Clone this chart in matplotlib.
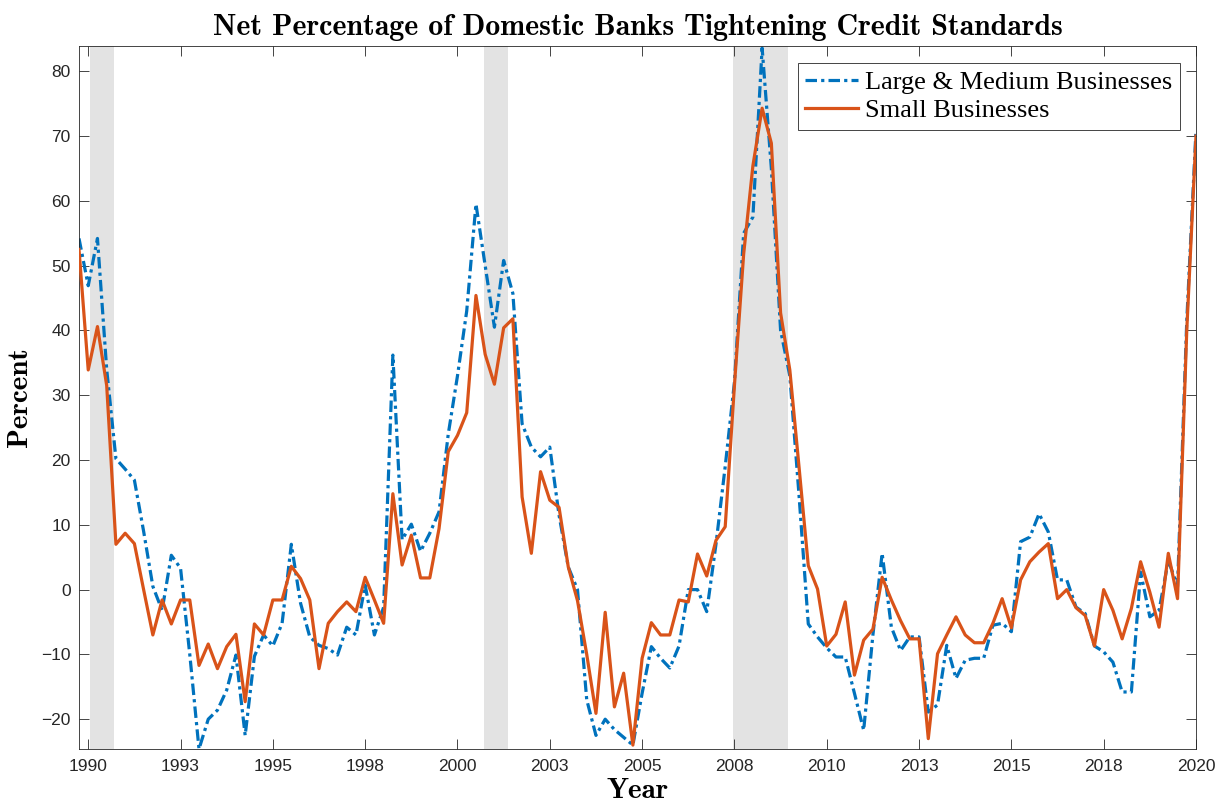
import numpy as np
import matplotlib.pyplot as plt

# quarterly survey, 1990 Q2 .. 2020 Q3 (decimal years)
first_quarter = 1990.25
large_medium = [
    54.2, 46.9, 54.2, 34.0, 20.2, 18.6, 16.9, 9.0, 0.5, -3.2,
    5.3, 3.3, -10.0, -24.6, -20.0, -18.6, -15.5, -10.1, -22.5, -10.3,
    -7.0, -8.7, -5.2, 7.0, -2.1, -7.3, -8.6, -9.1, -10.1, -5.8,
    -7.0, 0.7, -7.0, -2.7, 36.2, 7.7, 10.1, 5.9, 8.7, 12.0,
    24.0, 33.0, 43.0, 59.5, 50.0, 40.5, 50.8, 45.7, 25.6, 22.0,
    20.5, 22.0, 11.5, 3.5, 0.0, -17.0, -22.5, -20.0, -21.6, -22.8,
    -24.0, -16.0, -8.8, -10.6, -12.1, -8.7, 0.0, 0.0, -3.4, 7.0,
    19.0, 32.0, 55.0, 57.5, 83.6, 65.0, 40.0, 33.0, 14.5, -5.3,
    -7.3, -9.0, -10.4, -10.4, -16.0, -21.7, -7.0, 5.6, -5.8, -9.4,
    -7.3, -7.3, -18.9, -17.8, -8.6, -13.7, -10.9, -10.6, -10.6, -5.5,
    -5.2, -6.5, 7.4, 8.1, 11.7, 8.9, 1.5, 1.5, -2.7, -3.7,
    -8.7, -9.6, -11.2, -15.8, -15.8, 2.7, -4.2, -3.2, 4.5, 0.5,
    41.5, 70.9,
]
small = [
    52.5, 33.9, 40.6, 31.5, 7.0, 8.7, 7.1, 0.0, -7.0, -1.6,
    -5.3, -1.6, -1.6, -11.7, -8.4, -12.2, -8.8, -6.9, -17.3, -5.3,
    -7.0, -1.6, -1.6, 3.6, 1.7, -1.6, -12.2, -5.2, -3.4, -1.9,
    -3.4, 1.9, -1.6, -5.2, 14.8, 3.8, 8.4, 1.8, 1.8, 9.4,
    21.3, 23.8, 27.3, 45.4, 36.3, 31.7, 40.4, 41.8, 14.3, 5.6,
    18.2, 13.8, 12.7, 3.5, -1.7, -10.0, -19.1, -3.5, -18.1, -12.9,
    -24.0, -10.6, -5.1, -7.0, -7.0, -1.6, -1.9, 5.5, 2.1, 7.6,
    9.7, 31.5, 51.8, 65.4, 74.3, 68.9, 42.7, 33.9, 18.9, 3.7,
    0.1, -8.7, -6.9, -1.9, -13.2, -7.8, -6.1, 1.9, -1.6, -4.8,
    -7.6, -7.6, -23.0, -9.9, -7.0, -4.2, -7.0, -8.2, -8.2, -5.2,
    -1.4, -5.9, 1.5, 4.3, 5.8, 7.1, -1.4, 0.0, -2.8, -4.0,
    -8.7, 0.0, -3.2, -7.6, -2.9, 4.3, -0.4, -5.8, 5.6, -1.4,
    40.0, 70.0,
]
# NBER recessions
recession_start = [1990.54, 2001.21, 2007.96]
recession_end = [1991.21, 2001.88, 2009.46]
tick_labels = ['1990', '1993', '1995', '1998', '2000', '2003', '2005',
               '2008', '2010', '2013', '2015', '2018', '2020']

dates = first_quarter + 0.25 * np.arange(len(large_medium))

fig = plt.figure(figsize=(12.17, 8.05), dpi=100)
ax = fig.add_axes([79 / 1217, 1 - 749 / 805, 1117 / 1217, 703 / 805])

for s, e in zip(recession_start, recession_end):
    ax.axvspan(s, e, color='#e3e3e3', lw=0, zorder=0)

ax.plot(dates, large_medium, color='#0072BD', lw=2.3,
        linestyle=(0, (3.6, 1.3, 1.0, 1.3)), label='Large & Medium Businesses', zorder=2)
ax.plot(dates, small, color='#D95319', lw=2.3, label='Small Businesses', zorder=3)

allv = large_medium + small
ax.set_xlim(dates[0], dates[-1])
ax.set_ylim(min(allv), max(allv) + 0.3)

ax.set_xticks(2020.5 - 2.5 * np.arange(len(tick_labels))[::-1])
ax.set_xticklabels(tick_labels)
ax.set_yticks(np.arange(-20, 81, 10))

for sp in ax.spines.values():
    sp.set_color('#262626')
    sp.set_linewidth(0.6)
ax.tick_params(direction='in', length=7.5, width=0.6, color='#262626',
               top=True, right=True, labelsize=12.5, labelcolor='#262626')
ax.tick_params(axis='x', pad=7)
ax.tick_params(axis='y', pad=6)
for lbl in ax.get_xticklabels() + ax.get_yticklabels():
    lbl.set_fontfamily('Liberation Sans')

ax.set_title('Net Percentage of Domestic Banks Tightening Credit Standards',
             fontfamily='cmb10', fontsize=21.5, pad=8, color='black')
ax.set_xlabel('Year', fontfamily='cmb10', fontsize=21, labelpad=3)
ax.set_ylabel('Percent', fontfamily='cmb10', fontsize=21, labelpad=6)

leg = ax.legend(loc='upper right', bbox_to_anchor=(0.9857, 0.9758), borderaxespad=0,
                fancybox=False, framealpha=1, edgecolor='#262626',
                prop={'family': 'Liberation Serif', 'size': 19},
                handlelength=2.0, handletextpad=0.25, borderpad=0.3, labelspacing=0.15)
leg.get_frame().set_linewidth(0.6)

plt.savefig('out.png', dpi=100)
